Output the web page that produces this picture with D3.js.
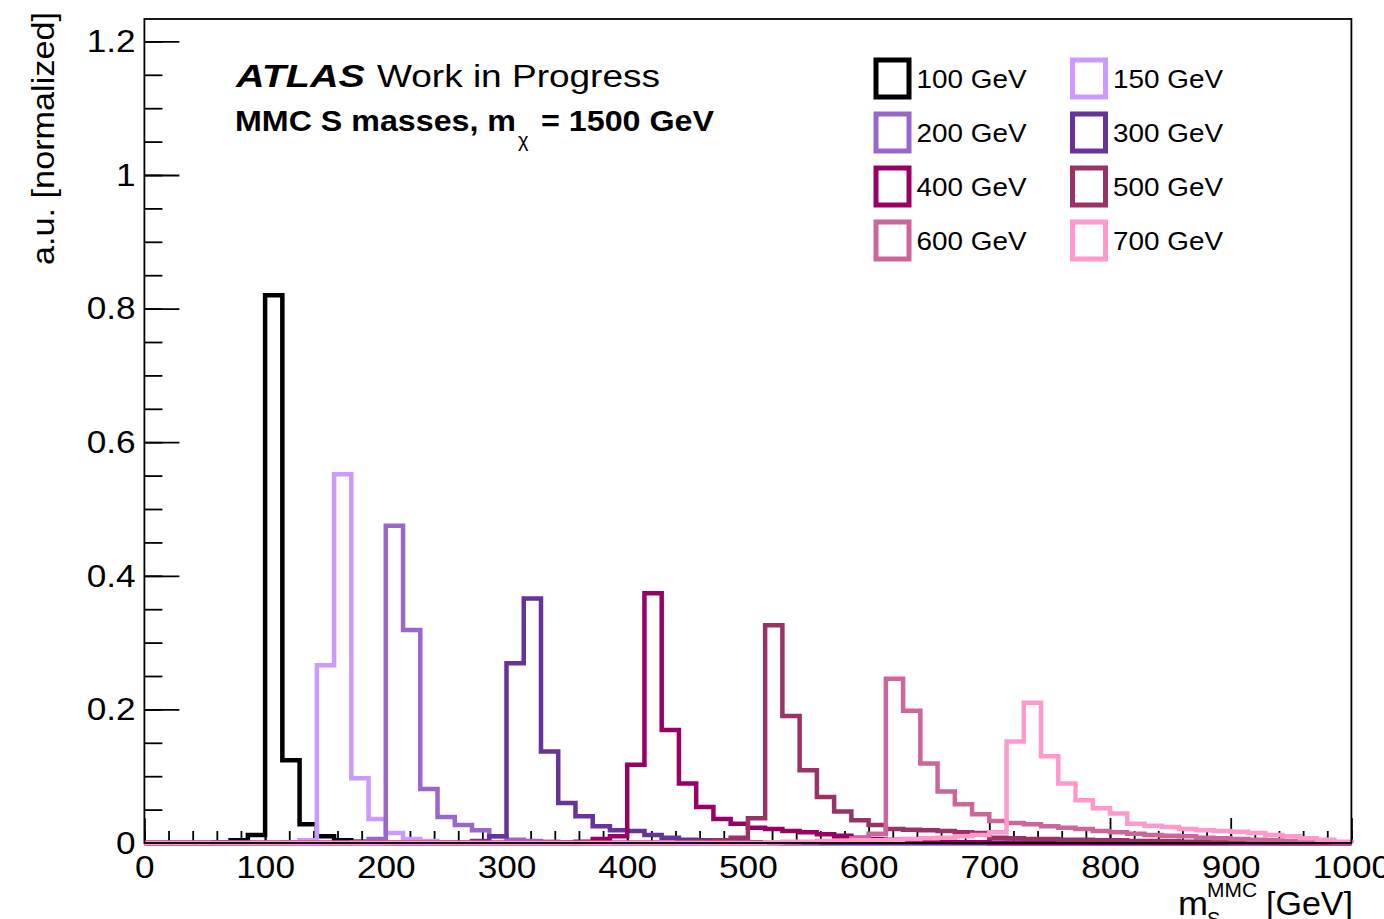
<!DOCTYPE html>
<html>
<head>
<meta charset="utf-8">
<script src="https://cdn.jsdelivr.net/npm/d3@7"></script>
<style>
  body { margin: 0; background: #fff; }
  text { font-family: "Liberation Sans", Arial, Helvetica, sans-serif; }
</style>
</head>
<body>
<svg id="chart"></svg>
<script>
const svgWidth = 1384;
const svgHeight = 919;

// 70 bins from 0 to 1000 GeV
const nBins = 70;
const xMin = 0, xMax = 1000;

const massLabels = ["100 GeV", "150 GeV", "200 GeV", "300 GeV", "400 GeV", "500 GeV", "600 GeV", "700 GeV"];
const massColors = ["#000000", "#cc99ff", "#9966cc", "#663399", "#990066", "#993366", "#cc6699", "#ff99cc"];

const h100 = [
  0, 0, 0, 0, 0.001, 0.004, 0.012, 0.82, 0.124, 0.028,
  0.01, 0.004, 0.002, 0.001, 0, 0, 0, 0, 0, 0,
  0, 0, 0, 0, 0, 0, 0, 0, 0, 0,
  0, 0, 0, 0, 0, 0, 0, 0, 0, 0,
  0, 0, 0, 0, 0, 0, 0, 0, 0, 0,
  0, 0, 0, 0, 0, 0, 0, 0, 0, 0,
  0, 0, 0, 0, 0, 0, 0, 0, 0, 0];
const h150 = [
  0, 0, 0, 0, 0, 0, 0, 0, 0.001, 0.004,
  0.266, 0.552, 0.097, 0.036, 0.015, 0.006, 0.003, 0.001, 0, 0,
  0, 0, 0, 0, 0, 0, 0, 0, 0, 0,
  0, 0, 0, 0, 0, 0, 0, 0, 0, 0,
  0, 0, 0, 0, 0, 0, 0, 0, 0, 0,
  0, 0, 0, 0, 0, 0, 0, 0, 0, 0,
  0, 0, 0, 0, 0, 0, 0, 0, 0, 0];
const h200 = [
  0, 0, 0, 0, 0, 0, 0, 0, 0, 0,
  0, 0, 0.001, 0.006, 0.475, 0.319, 0.081, 0.039, 0.027, 0.019,
  0.01, 0.005, 0.003, 0.002, 0.001, 0, 0, 0, 0, 0,
  0, 0, 0, 0, 0, 0, 0, 0, 0, 0,
  0, 0, 0, 0, 0, 0, 0, 0, 0, 0,
  0, 0, 0, 0, 0, 0, 0, 0, 0, 0,
  0, 0, 0, 0, 0, 0, 0, 0, 0, 0];
const h300 = [
  0, 0, 0, 0, 0, 0, 0, 0, 0, 0,
  0, 0, 0, 0, 0, 0, 0, 0, 0, 0.003,
  0.01, 0.269, 0.366, 0.137, 0.06, 0.04, 0.025, 0.019, 0.018, 0.012,
  0.008, 0.005, 0.004, 0.003, 0.002, 0.001, 0.001, 0, 0, 0,
  0, 0, 0, 0, 0, 0, 0, 0, 0, 0,
  0, 0, 0, 0, 0, 0, 0, 0, 0, 0,
  0, 0, 0, 0, 0, 0, 0, 0, 0, 0];
const h400 = [
  0, 0, 0, 0, 0, 0, 0, 0, 0, 0,
  0, 0, 0, 0, 0, 0, 0, 0, 0, 0,
  0, 0, 0, 0, 0, 0.002, 0.006, 0.01, 0.117, 0.374,
  0.169, 0.089, 0.054, 0.036, 0.029, 0.023, 0.021, 0.018, 0.016, 0.013,
  0.011, 0.008, 0.006, 0.005, 0.004, 0.003, 0.002, 0.001, 0.001, 0,
  0, 0, 0, 0, 0, 0, 0, 0, 0, 0,
  0, 0, 0, 0, 0, 0, 0, 0, 0, 0];
const h500 = [
  0, 0, 0, 0, 0, 0, 0, 0, 0, 0,
  0, 0, 0, 0, 0, 0, 0, 0, 0, 0,
  0, 0, 0, 0, 0, 0, 0, 0, 0, 0,
  0, 0, 0.002, 0.004, 0.008, 0.037, 0.326, 0.19, 0.109, 0.069,
  0.047, 0.034, 0.027, 0.021, 0.02, 0.019, 0.018, 0.016, 0.015, 0.008,
  0.007, 0.006, 0.006, 0.005, 0.005, 0.004, 0.004, 0.003, 0.003, 0.003,
  0.002, 0.002, 0.002, 0.001, 0.001, 0.001, 0, 0, 0, 0];
const h600 = [
  0, 0, 0, 0, 0, 0, 0, 0, 0, 0,
  0, 0, 0, 0, 0, 0, 0, 0, 0, 0,
  0, 0, 0, 0, 0, 0, 0, 0, 0, 0,
  0, 0, 0, 0, 0, 0, 0, 0, 0.001, 0.002,
  0.004, 0.007, 0.014, 0.246, 0.198, 0.119, 0.077, 0.058, 0.043, 0.033,
  0.03, 0.028, 0.025, 0.023, 0.021, 0.018, 0.016, 0.014, 0.012, 0.011,
  0.01, 0.008, 0.007, 0.006, 0.005, 0.004, 0.003, 0.002, 0.002, 0.001];
const h700 = [
  0, 0, 0, 0, 0, 0, 0, 0, 0, 0,
  0, 0, 0, 0, 0, 0, 0, 0, 0, 0,
  0, 0, 0, 0, 0, 0, 0, 0, 0, 0,
  0, 0, 0, 0, 0, 0, 0.001, 0.002, 0.002, 0.003,
  0.003, 0.004, 0.004, 0.005, 0.006, 0.007, 0.008, 0.01, 0.012, 0.016,
  0.152, 0.21, 0.13, 0.089, 0.064, 0.052, 0.044, 0.029, 0.026, 0.024,
  0.021, 0.019, 0.018, 0.017, 0.015, 0.012, 0.01, 0.007, 0.005, 0.002];

const hists = [h100, h150, h200, h300, h400, h500, h600, h700];

const xTickValues = [0, 100, 200, 300, 400, 500, 600, 700, 800, 900, 1000];
const yTickValues = [0, 0.2, 0.4, 0.6, 0.8, 1, 1.2];

const svg = d3.select("#chart")
    .attr("width", svgWidth)
    .attr("height", svgHeight);

svg.append("rect").attr("width", svgWidth).attr("height", svgHeight).attr("fill", "white");

// frame
const frameL = 144.4, frameR = 1351.4, frameT = 19, frameB = 843;

const x = d3.scaleLinear().domain([xMin, xMax]).range([frameL, frameR]);
const y = d3.scaleLinear().domain([0, (frameB - frameT) / 668]).range([frameB, frameT]);

const binW = (xMax - xMin) / nBins;

// minor ticks
svg.append("g")
    .attr("transform", `translate(0,${frameB})`)
    .call(d3.axisBottom(x).tickValues(d3.range(0, 1001, 20)).tickSize(-12).tickFormat(""))
    .call(g => g.select(".domain").remove())
    .call(g => g.selectAll("line").attr("stroke-width", 1.8));
svg.append("g")
    .attr("transform", `translate(${frameL},0)`)
    .call(d3.axisLeft(y).tickValues(d3.range(0, 1.21, 0.05)).tickSize(-18).tickFormat(""))
    .call(g => g.select(".domain").remove())
    .call(g => g.selectAll("line").attr("stroke-width", 1.8));

// major ticks + labels
const xAxis = svg.append("g")
    .attr("transform", `translate(0,${frameB})`)
    .call(d3.axisBottom(x).tickValues(xTickValues).tickSize(-25).tickPadding(12).tickFormat(d3.format("d")));
const yAxis = svg.append("g")
    .attr("transform", `translate(${frameL},0)`)
    .call(d3.axisLeft(y).tickValues(yTickValues).tickSize(-35).tickPadding(8).tickFormat(d => d === 0 ? "0" : d3.format("~g")(d)));

[xAxis, yAxis].forEach(a => {
  a.select(".domain").remove();
  a.selectAll("line").attr("stroke-width", 1.8);
  a.selectAll("text")
    .attr("font-size", 32)
    .attr("font-family", "Liberation Sans, Arial, sans-serif")
    .attr("fill", "black")
    .attr("transform", "scale(1.1,1)");
});

// histograms
const line = d3.line().x(d => x(d[0])).y(d => y(d[1]));
hists.forEach((h, i) => {
  const pts = [[xMin, 0]];
  h.forEach((v, k) => {
    pts.push([xMin + k * binW, v]);
    pts.push([xMin + (k + 1) * binW, v]);
  });
  pts.push([xMax, 0]);
  svg.append("path")
    .attr("d", line(pts))
    .attr("fill", "none")
    .attr("stroke", massColors[i])
    .attr("stroke-width", 4.5)
    .attr("stroke-linejoin", "miter");
});

// frame box
svg.append("rect")
    .attr("x", frameL).attr("y", frameT)
    .attr("width", frameR - frameL).attr("height", frameB - frameT)
    .attr("fill", "none").attr("stroke", "black").attr("stroke-width", 1.8);

// legend
const legend = svg.append("g");
massLabels.forEach((lab, i) => {
  const col = i % 2, row = Math.floor(i / 2);
  const cx = col === 0 ? 892.5 : 1089;
  const cy = 78.5 + row * 54;
  legend.append("rect")
    .attr("x", cx - 16.5).attr("y", cy - 18.5)
    .attr("width", 33).attr("height", 37)
    .attr("fill", "none").attr("stroke", massColors[i]).attr("stroke-width", 5);
  legend.append("text")
    .attr("x", cx + 24).attr("y", cy + 9.5)
    .attr("font-size", 26)
    .attr("textLength", 110).attr("lengthAdjust", "spacingAndGlyphs")
    .text(lab);
});

// ATLAS label
svg.append("text").attr("x", 236).attr("y", 87)
    .attr("font-size", 31).attr("font-weight", "bold").attr("font-style", "italic")
    .attr("textLength", 129).attr("lengthAdjust", "spacingAndGlyphs")
    .text("ATLAS");
svg.append("text").attr("x", 377).attr("y", 87)
    .attr("font-size", 31)
    .attr("textLength", 283).attr("lengthAdjust", "spacingAndGlyphs")
    .text("Work in Progress");
svg.append("text").attr("x", 235).attr("y", 131)
    .attr("font-size", 29).attr("font-weight", "bold")
    .attr("textLength", 281).attr("lengthAdjust", "spacingAndGlyphs")
    .text("MMC S masses, m");
svg.append("text").attr("x", 518).attr("y", 147)
    .attr("font-size", 20)
    .text("χ");
svg.append("text").attr("x", 541).attr("y", 131)
    .attr("font-size", 29).attr("font-weight", "bold")
    .attr("textLength", 173).attr("lengthAdjust", "spacingAndGlyphs")
    .text("= 1500 GeV");

// axis titles
svg.append("text")
    .attr("transform", "translate(54,12) rotate(-90)")
    .attr("text-anchor", "end")
    .attr("font-size", 32)
    .attr("textLength", 253).attr("lengthAdjust", "spacingAndGlyphs")
    .text("a.u. [normalized]");

svg.append("text").attr("x", 1178).attr("y", 915).attr("font-size", 33)
    .attr("textLength", 30).attr("lengthAdjust", "spacingAndGlyphs").text("m");
svg.append("text").attr("x", 1207).attr("y", 897).attr("font-size", 20)
    .attr("textLength", 50).attr("lengthAdjust", "spacingAndGlyphs").text("MMC");
svg.append("text").attr("x", 1207).attr("y", 926).attr("font-size", 20).text("S");
svg.append("text").attr("x", 1266).attr("y", 915).attr("font-size", 33)
    .attr("textLength", 87).attr("lengthAdjust", "spacingAndGlyphs").text("[GeV]");
</script>
</body>
</html>
